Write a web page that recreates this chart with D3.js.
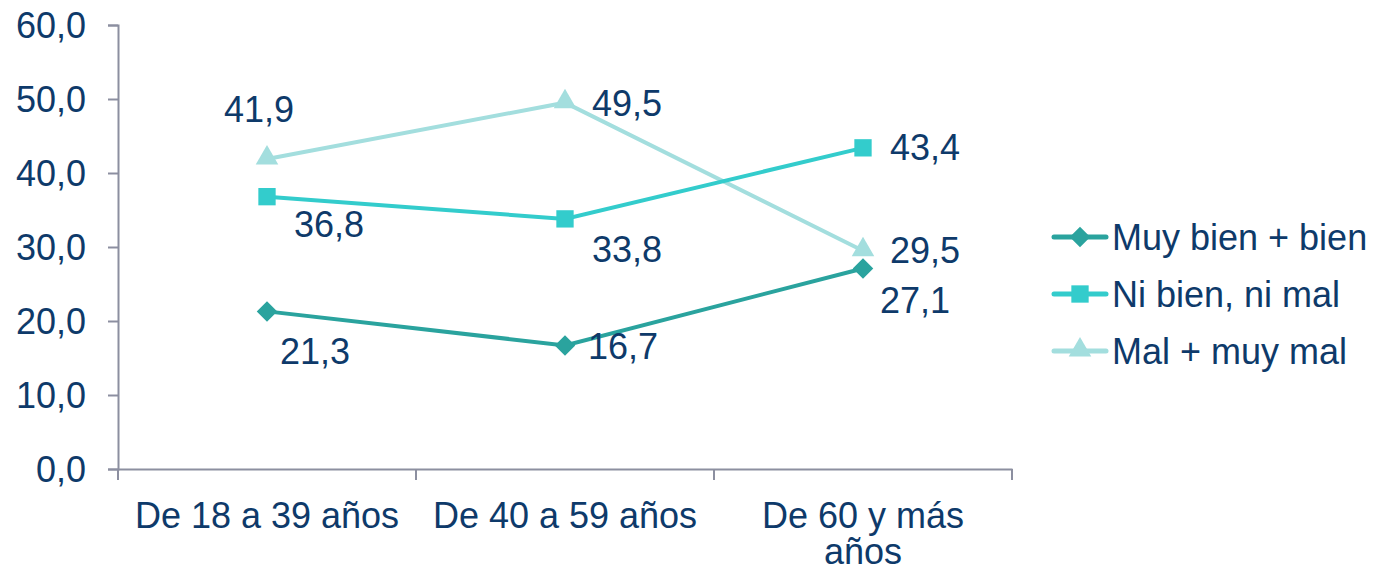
<!DOCTYPE html>
<html>
<head>
<meta charset="utf-8">
<script src="https://cdn.jsdelivr.net/npm/d3@7"></script>
<style>
  body { margin: 0; background: #fff; }
  text { font-family: "Liberation Sans", Arial, sans-serif; fill: #0E3A6A; }
</style>
</head>
<body>
<div id="chart"></div>
<script>
const categories = ['De 18 a 39 años', 'De 40 a 59 años', 'De 60 y más|años'];
const seriesNames = ['Muy bien + bien', 'Ni bien, ni mal', 'Mal + muy mal'];
const muyBien = [21.3, 16.7, 27.1];
const niBien = [36.8, 33.8, 43.4];
const mal = [41.9, 49.5, 29.5];
const yTicks = [0, 10, 20, 30, 40, 50, 60];

const colors = ['#2AA39E', '#33CCCC', '#A3DEDE'];
const fontSize = '36px';
// label offsets per series per point (dx, dy from point)
const labelOffsets = [
  [[48, 40], [58, 1], [52, 32]],
  [[62, 28], [62, 31], [62, 0]],
  [[-8, -50], [62, 1], [62, 0]]
];

const margin = { top: 25, left: 118 };
const width = 894, height = 444;
const svg = d3.select('#chart').append('svg')
  .attr('width', 1378).attr('height', 572);

const g = svg.append('g').attr('transform', `translate(${margin.left},${margin.top})`);

const x = d3.scaleBand().domain(categories).range([0, width]);
const y = d3.scaleLinear().domain([0, 60]).range([height, 0]);
const fmt = v => d3.format('.1f')(v).replace('.', ',');

// marker shapes
function marker(sel, s) {
  if (s === 0) {
    sel.append('path').attr('d', d3.symbol().type(d3.symbolSquare).size(210)())
      .attr('transform', 'rotate(45)').attr('fill', colors[s]);
  } else if (s === 1) {
    sel.append('path').attr('d', d3.symbol().type(d3.symbolSquare).size(300)())
      .attr('fill', colors[s]);
  } else {
    sel.append('path').attr('d', d3.symbol().type(d3.symbolTriangle).size(220)())
      .attr('transform', 'translate(0,-1)').attr('fill', colors[s]);
  }
}

// axes
const axisColor = '#8C8FA0';
const yAxis = g.append('g').call(d3.axisLeft(y).tickValues(yTicks).tickSize(10).tickPadding(22).tickFormat(fmt));
yAxis.selectAll('text').style('font-size', fontSize).attr('dy', '0.35em');
const xAxis = g.append('g').attr('transform', `translate(0,${height})`)
  .call(d3.axisBottom(x).tickSize(0).tickFormat(''));
[yAxis, xAxis].forEach(a => {
  a.select('.domain').attr('stroke', axisColor).attr('stroke-width', 2);
  a.selectAll('line').attr('stroke', axisColor).attr('stroke-width', 2);
});
// category boundary ticks
const bounds = categories.map(c => x(c)).concat([width]);
xAxis.selectAll('.bound').data(bounds).enter().append('line')
  .attr('x1', d => d).attr('x2', d => d).attr('y1', 0).attr('y2', 11)
  .attr('stroke', axisColor).attr('stroke-width', 2);
// category labels
categories.forEach(c => {
  const t = xAxis.append('text')
    .attr('x', x(c) + x.bandwidth() / 2).attr('y', 59)
    .attr('text-anchor', 'middle')
    .style('font-size', fontSize).style('fill', '#0E3A6A');
  c.split('|').forEach((line, i) => {
    t.append('tspan').attr('x', x(c) + x.bandwidth() / 2).attr('dy', i ? 36 : 0).text(line);
  });
});

const cx = (i) => x(categories[i]) + x.bandwidth() / 2;
const allSeries = [muyBien, niBien, mal];
const line = d3.line().x((d, i) => cx(i)).y(d => y(d));

// draw in reverse so the first series sits on top
[2, 1, 0].forEach(s => {
  const vals = allSeries[s];
  g.append('path').datum(vals)
    .attr('d', line).attr('fill', 'none')
    .attr('stroke', colors[s]).attr('stroke-width', 4);
  g.selectAll('.m' + s).data(vals).enter().append('g')
    .attr('transform', (d, i) => `translate(${cx(i)},${y(d)})`)
    .each(function() { marker(d3.select(this), s); });
});
allSeries.forEach((vals, s) => {
  g.selectAll('.l' + s).data(vals).enter().append('text')
    .attr('x', (d, i) => cx(i) + labelOffsets[s][i][0])
    .attr('y', (d, i) => y(d) + labelOffsets[s][i][1])
    .attr('dy', '0.35em').attr('text-anchor', 'middle')
    .style('font-size', fontSize)
    .text(d => fmt(d));
});

// legend
const legend = svg.append('g').attr('transform', 'translate(1052,237)');
seriesNames.forEach((name, s) => {
  const row = legend.append('g').attr('transform', `translate(0,${s * 57})`);
  row.append('line').attr('x1', 2).attr('x2', 54).attr('stroke', colors[s])
    .attr('stroke-width', 5).attr('stroke-linecap', 'round');
  marker(row.append('g').attr('transform', 'translate(28,0)'), s);
  row.append('text').attr('x', 60).attr('dy', '0.35em')
    .style('font-size', fontSize).text(name);
});
</script>
</body>
</html>
